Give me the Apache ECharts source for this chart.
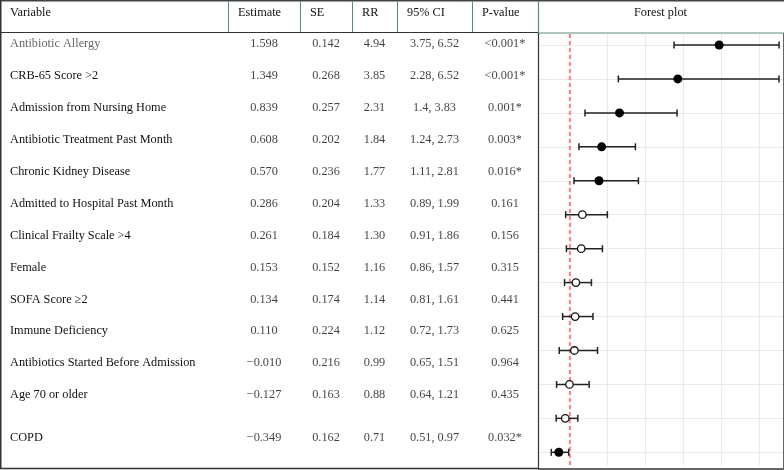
<!DOCTYPE html>
<html>
<head>
<meta charset="utf-8">
<script src="https://cdn.jsdelivr.net/npm/echarts@6/dist/echarts.min.js"></script>
<style>
  html, body { margin: 0; padding: 0; background: #fff; }
  #main { width: 784px; height: 470px; }
</style>
</head>
<body>
<div id="main"></div>
<script>
// poisson model results, one entry per variable
var variables = [
  'Antibiotic Allergy', 'CRB-65 Score >2', 'Admission from Nursing Home',
  'Antibiotic Treatment Past Month', 'Chronic Kidney Disease',
  'Admitted to Hospital Past Month', 'Clinical Frailty Scale >4', 'Female',
  'SOFA Score ≥2', 'Immune Deficiency', 'Antibiotics Started Before Admission',
  'Age 70 or older', 'COPD'
];
var estimates = ['1.598', '1.349', '0.839', '0.608', '0.570', '0.286', '0.261', '0.153',
  '0.134', '0.110', '−0.010', '−0.127', '−0.349'];
var standardErrors = ['0.142', '0.268', '0.257', '0.202', '0.236', '0.204', '0.184', '0.152',
  '0.174', '0.224', '0.216', '0.163', '0.162'];
var riskRatios = [4.94, 3.85, 2.31, 1.84, 1.77, 1.33, 1.30, 1.16, 1.14, 1.12, 0.99, 0.88, 0.71];
var ciLower = [3.75, 2.28, 1.4, 1.24, 1.11, 0.89, 0.91, 0.86, 0.81, 0.72, 0.65, 0.64, 0.51];
var ciUpper = [6.52, 6.52, 3.83, 2.73, 2.81, 1.99, 1.86, 1.57, 1.61, 1.73, 1.51, 1.21, 0.97];
var pValues = ['<0.001*', '<0.001*', '0.001*', '0.003*', '0.016*', '0.161', '0.156', '0.315',
  '0.441', '0.625', '0.964', '0.435', '0.032*'];
var headers = ['Variable', 'Estimate', 'SE', 'RR', '95% CI', 'P-value', 'Forest plot'];
var refLine = [1]; // RR = 1, no effect

var myChart = echarts.init(document.getElementById('main'));

var FONT = 'Liberation Serif, Times New Roman, serif';
var FS = 12.3;
var colEdges = [0, 228, 300, 352, 397, 472, 538, 783];
var last = variables.length - 1;
var green = '#5e8c7c';

var rrText = riskRatios.map(function (v) { return v.toFixed(2); });
var ciText = ciLower.map(function (lo, i) { return lo + ', ' + ciUpper[i]; });
var textCols = [estimates, standardErrors, rrText, ciText, pValues];
var isSig = pValues.map(function (p) { return p.indexOf('*') >= 0; });

var grids = [], xAxes = [], yAxes = [], series = [];

// table columns
for (var c = 0; c < 6; c++) {
  grids.push({ left: colEdges[c], width: colEdges[c + 1] - colEdges[c], top: 28, height: 415 });
  xAxes.push({ gridIndex: c, type: 'category', data: [headers[c]], show: false });
  yAxes.push({
    gridIndex: c, type: 'category', inverse: true, data: variables,
    axisLine: { show: false }, axisTick: { show: false }, splitLine: { show: false },
    axisLabel: c === 0 ? {
      show: true, inside: true, margin: 10,
      formatter: function (v, i) {
        if (i === 0) return '{g|' + v + '}';
        if (i === last) return '{d|' + v + '}';
        return '{n|' + v + '}';
      },
      rich: {
        n: { fontFamily: FONT, fontSize: FS, color: '#111' },
        g: { fontFamily: FONT, fontSize: FS, color: '#666' },
        d: { fontFamily: FONT, fontSize: FS, color: '#111', padding: [22, 0, 0, 0] }
      }
    } : { show: false }
  });
  if (c > 0) {
    (function (col) {
      series.push({
        type: 'scatter', xAxisIndex: c, yAxisIndex: c, symbolSize: 0, silent: true,
        data: variables.map(function (v, i) {
          var item = { value: [0, i] };
          if (i === last) item.label = { offset: [0, 11] };
          return item;
        }),
        label: {
          show: true, position: 'inside', fontFamily: FONT, fontSize: FS, color: '#111',
          formatter: function (p) { return col[p.dataIndex]; }
        }
      });
    })(textCols[c - 1]);
  }
}

// forest plot: rows grid (6) and panel grid (7)
grids.push({ left: 538, right: 1, top: 45, bottom: 17.7 });
grids.push({ left: 538, right: 1, top: 34, bottom: 4 });
xAxes.push({ gridIndex: 6, type: 'value', min: 0.16, max: 6.625, show: false });
yAxes.push({
  gridIndex: 6, type: 'category', inverse: true, boundaryGap: false, data: variables,
  axisLine: { show: false }, axisTick: { show: false }, axisLabel: { show: false },
  splitLine: { show: true, lineStyle: { color: '#ebebeb', width: 1.1 } }
});
xAxes.push({
  gridIndex: 7, type: 'value', min: 0.16, max: 6.625, splitNumber: 6,
  axisLine: { show: false }, axisTick: { show: false }, axisLabel: { show: false },
  splitLine: { show: true, lineStyle: { color: '#ebebeb', width: 1.1 } }
});
yAxes.push({ gridIndex: 7, type: 'value', min: 0, max: 1, show: false, splitLine: { show: false } });

// dashed reference line at RR = 1
series.push({
  type: 'custom', xAxisIndex: 7, yAxisIndex: 7, silent: true, z: 3,
  data: refLine.map(function (v) { return [v]; }),
  encode: { x: 0 },
  renderItem: function (params, api) {
    var x = api.coord([api.value(0), 0])[0];
    var cs = params.coordSys;
    return {
      type: 'line',
      shape: { x1: x, y1: cs.y, x2: x, y2: cs.y + cs.height },
      style: { stroke: '#ff7f7f', lineWidth: 2, lineDash: [4, 3] }
    };
  }
});

series.push({
  type: 'custom', xAxisIndex: 6, yAxisIndex: 6, silent: true, z: 4,
  data: variables.map(function (v, i) { return [i, ciLower[i], ciUpper[i]]; }),
  encode: { x: [1, 2], y: 0 },
  renderItem: function (params, api) {
    var a = api.coord([api.value(1), api.value(0)]);
    var b = api.coord([api.value(2), api.value(0)]);
    var st = { stroke: '#222', lineWidth: 1.5 };
    return {
      type: 'group',
      children: [
        { type: 'line', shape: { x1: a[0], y1: a[1], x2: b[0], y2: b[1] }, style: st },
        { type: 'line', shape: { x1: a[0], y1: a[1] - 3.5, x2: a[0], y2: a[1] + 3.5 }, style: st },
        { type: 'line', shape: { x1: b[0], y1: b[1] - 3.5, x2: b[0], y2: b[1] + 3.5 }, style: st }
      ]
    };
  }
});

series.push({
  type: 'scatter', xAxisIndex: 6, yAxisIndex: 6, symbolSize: 9, silent: true, z: 5,
  itemStyle: { color: '#000', opacity: 1 },
  data: variables.map(function (v, i) { return isSig[i] ? [riskRatios[i], i] : null; })
    .filter(function (d) { return d; })
});
series.push({
  type: 'scatter', xAxisIndex: 6, yAxisIndex: 6, symbolSize: 7.5, silent: true, z: 5,
  itemStyle: { color: '#fff', borderColor: '#111', borderWidth: 1.3, opacity: 1 },
  data: variables.map(function (v, i) { return !isSig[i] ? [riskRatios[i], i] : null; })
    .filter(function (d) { return d; })
});

// table frame and header
var graphic = [];
function ln(x1, y1, x2, y2, color, w) {
  graphic.push({ type: 'line', silent: true, z: 10,
    shape: { x1: x1, y1: y1, x2: x2, y2: y2 }, style: { stroke: color, lineWidth: w } });
}
ln(0, 0.75, 784, 0.75, '#444', 1.5);
ln(0, 32.5, 538, 32.5, '#333', 1.2);
ln(538, 33, 784, 33, green, 1.2);
for (var k = 1; k < 6; k++) ln(colEdges[k] + 0.5, 1, colEdges[k] + 0.5, 32, green, 1);
ln(538.5, 1, 538.5, 33, green, 1.2);
ln(0.75, 0, 0.75, 469, '#333', 1.5);
ln(0, 468.5, 538, 468.5, '#333', 1.5);
ln(538.5, 33, 538.5, 469, '#333', 1.2);
ln(538, 469, 784, 469, '#333', 1.5);
ln(783.5, 33, 783.5, 469, '#666', 1);

headers.forEach(function (h, i) {
  var center = i === 6;
  graphic.push({
    type: 'text', silent: true, z: 10,
    style: {
      text: h,
      x: center ? (colEdges[6] + colEdges[7]) / 2 : colEdges[i] + 10,
      y: 13,
      textAlign: center ? 'center' : 'left',
      textVerticalAlign: 'middle',
      font: FS + 'px ' + FONT,
      fill: '#111'
    }
  });
});

var option = {
  animation: false,
  backgroundColor: '#fff',
  grid: grids,
  xAxis: xAxes,
  yAxis: yAxes,
  series: series,
  graphic: graphic
};
myChart.setOption(option);
</script>
</body>
</html>
